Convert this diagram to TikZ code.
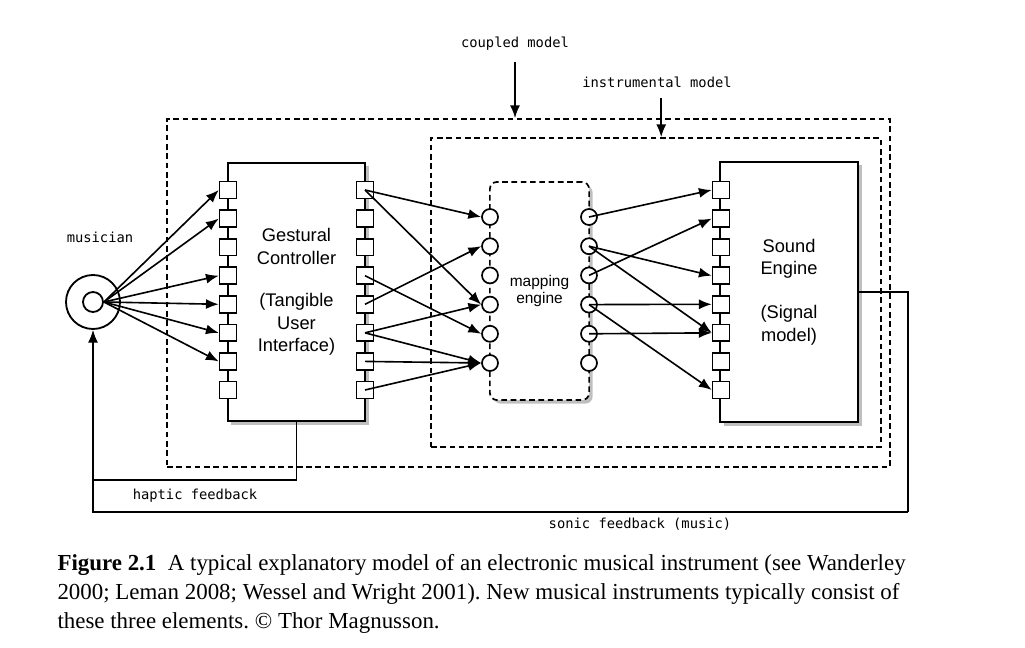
\documentclass[tikz,border=0pt]{standalone}
\usepackage{fontspec}
\setmainfont{Liberation Serif}
\newfontfamily\helv{Liberation Sans}
\newfontfamily\mono{DejaVu Sans Mono}
\usetikzlibrary{positioning,arrows.meta,shadows,fit}
\tikzset{every picture/.style={line width=0.75pt}}
\frenchspacing

\begin{document}
\begin{tikzpicture}[x=0.025cm, y=-0.025cm, >={Latex[length=3.2mm,width=2.5mm]},
    caixa/.style={draw, line width=1.5pt, fill=white, align=center,
        drop shadow={opacity=0.5, shadow xshift=2.5pt, shadow yshift=-2.5pt},
        font=\helv\fontsize{13}{16}\selectfont},
    porta/.style={draw, line width=1.2pt, fill=white, minimum size=0.42cm, inner sep=0pt},
    bola/.style={draw, circle, line width=1.2pt, fill=white, minimum size=0.4cm, inner sep=0pt},
    modelo/.style={draw, dash pattern=on 4pt off 2.6pt, line width=1.2pt, inner sep=0pt},
    rotulo/.style={font=\mono\fontsize{9.8}{12}\selectfont},
    liga/.style={->, line width=1.15pt},
    retorno/.style={line width=0.9pt}]
    \useasboundingbox (0,0) rectangle (1025,648);
    % modelo acoplado e modelo instrumental (tracejados)
    \coordinate (a1) at (167,119); \coordinate (a2) at (890,467);
    \node[modelo, fit=(a1)(a2)] (acoplado) {};
    \coordinate (i1) at (431,138); \coordinate (i2) at (881,447);
    \node[modelo, fit=(i1)(i2)] (instr) {};
    \node[rotulo] (lacop) at (515,44) {coupled model};
    \node[rotulo] (linstr) at (657,82) {instrumental model};
    \draw[liga] ([yshift=-4pt]lacop.south) -- (lacop.south |- acoplado.north);
    \draw[liga] ([xshift=3pt, yshift=-4pt]linstr.south) -- ([xshift=3pt]linstr.south |- instr.north);
    % músico
    \node[draw, circle, line width=1.3pt, fill=white, minimum size=1.35cm] (musico) at (93,302) {};
    \node[draw, circle, line width=1.3pt, minimum size=0.5cm] (olho) at (93,302) {};
    \node[rotulo] (lmus) at (100,237) {musician};
    % controlador gestual, motor de mapeamento e motor de som
    \node[caixa, minimum width=3.43cm, minimum height=6.45cm] (gc) at (296.5,292)
        {Gestural\\Controller\\[14pt](Tangible\\User\\Interface)};
    \node[caixa, minimum width=3.45cm, minimum height=6.5cm] (se) at (789,292)
        {Sound\\Engine\\[15pt](Signal\\model)};
    \node[caixa, dash pattern=on 4pt off 2.6pt, rounded corners=5pt, line width=1.2pt,
        minimum width=2.48cm, minimum height=5.45cm, font=\helv\fontsize{11}{12}\selectfont] (map) at (539.5,291)
        {mapping\\engine};
    % portas
    \foreach \i in {1,...,8} {
        \node[porta] (ge\i) at (228,{190+28.57*(\i-1)}) {};
        \node[porta] (gd\i) at (365,{190+28.57*(\i-1)}) {};
        \node[porta] (se\i) at (721,{190+28.57*(\i-1)}) {};
    }
    \foreach \i in {1,...,6} {
        \node[bola] (me\i) at (490,{217+29.2*(\i-1)}) {};
        \node[bola] (md\i) at (589,{217+29.2*(\i-1)}) {};
    }
    % ligações
    \foreach \a in {1,2,4,5,6,7} { \draw[liga] (olho.east) -- (ge\a.west); }
    \foreach \a/\b in {1/1,1/4,4/5,5/2,6/4,6/6,7/6,8/6} { \draw[liga] (gd\a.center) -- (me\b.west); }
    \foreach \a/\b in {1/1,2/4,2/6,3/2,4/5,4/8,5/6} { \draw[liga] (md\a.center) -- (se\b.west); }
    % retornos háptico e sonoro
    \coordinate (sonico) at (908,512);
    \coordinate (haptico) at (93,480);
    \draw[retorno] (se.east) -| (sonico);
    \draw[retorno, ->] (sonico) -| (musico.south);
    \draw[retorno] (gc.south) |- (haptico);
    \node[rotulo] (lhap) at (195,496) {haptic feedback};
    \node[rotulo] (lson) at (640,524) {sonic feedback (music)};
    % legenda
    \node[anchor=north west, align=left, inner sep=0pt, font=\fontsize{16.3}{20.5}\selectfont] (legenda) at (57,554)
        {\textbf{Figure 2.1}\enspace A typical explanatory model of an electronic musical instrument (see Wanderley\\
        2000; Leman 2008; Wessel and Wright 2001). New musical instruments typically consist of\\
        these three elements. \copyright{} Thor Magnusson.};
\end{tikzpicture}
\end{document}
